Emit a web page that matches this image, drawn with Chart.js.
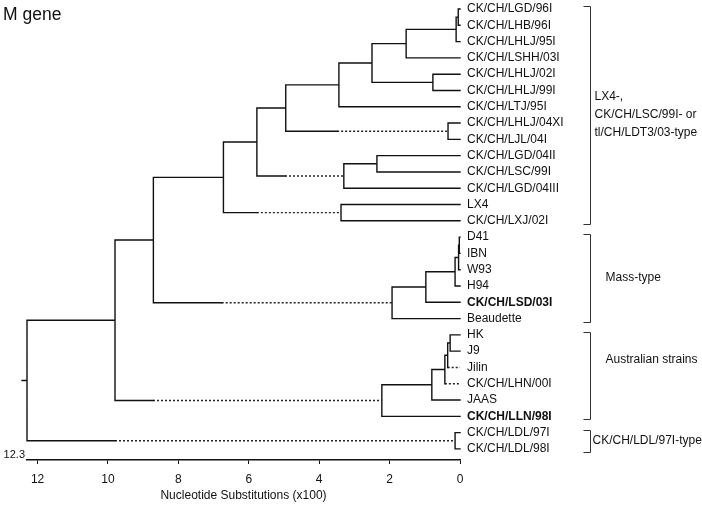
<!DOCTYPE html>
<html>
<head>
<meta charset="utf-8">
<script src="https://cdn.jsdelivr.net/npm/chart.js@4.4.1/dist/chart.umd.min.js"></script>
<style>
  html, body { margin: 0; padding: 0; background: #fff; }
  #wrap { width: 702px; height: 505px; position: relative; }
</style>
</head>
<body>
<div id="wrap"><canvas id="tree"></canvas></div>
<script>
const leaves = [
  'CK/CH/LGD/96I', 'CK/CH/LHB/96I', 'CK/CH/LHLJ/95I', 'CK/CH/LSHH/03I',
  'CK/CH/LHLJ/02I', 'CK/CH/LHLJ/99I', 'CK/CH/LTJ/95I', 'CK/CH/LHLJ/04XI',
  'CK/CH/LJL/04I', 'CK/CH/LGD/04II', 'CK/CH/LSC/99I', 'CK/CH/LGD/04III',
  'LX4', 'CK/CH/LXJ/02I', 'D41', 'IBN', 'W93', 'H94', 'CK/CH/LSD/03I',
  'Beaudette', 'HK', 'J9', 'Jilin', 'CK/CH/LHN/00I', 'JAAS', 'CK/CH/LLN/98I',
  'CK/CH/LDL/97I', 'CK/CH/LDL/98I'
];
const boldLeaves = ['CK/CH/LSD/03I', 'CK/CH/LLN/98I'];

// internal nodes: height in nucleotide substitutions (x100), children = leaf index or node id
const nodeIds = ['n1', 'n2', 'n3', 'n4', 'n5', 'n6', 'n7', 'n8', 'n9', 'n10', 'n11', 'n12', 'n13',
  'n14', 'n15', 'n16', 'n17', 'n18', 'n19', 'n20', 'n21', 'n22', 'n23', 'n24', 'n25', 'n26', 'root'];
const nodeHeights = [0.05, 0.11, 1.53, 0.77, 2.5, 3.44, 0.34, 4.95, 2.36, 3.3, 5.77, 3.38, 6.72,
  0.02, 0.04, 0.14, 0.97, 1.93, 8.71, 0.28, 0.35, 0.43, 0.8, 2.22, 9.8, 0.14, 12.3];
const nodeChildren = [
  [0, 1], ['n1', 2], ['n2', 3], [4, 5], ['n3', 'n4'], ['n5', 6], [7, 8], ['n6', 'n7'],
  [9, 10], ['n9', 11], ['n8', 'n10'], [12, 13], ['n11', 'n12'],
  [14, 15], ['n14', 16], ['n15', 17], ['n16', 18], ['n17', 19], ['n13', 'n18'],
  [20, 21], ['n20', 22], ['n21', 23], ['n22', 24], ['n23', 25], ['n19', 'n24'],
  [26, 27], ['n25', 'n26']
];
// branches drawn dotted after the solid part stops
const dottedChild = ['n7', 'n10', 'n12', 'n18', 'n24', 'n26', 22, 23];
const dottedFrom = [3.49, 4.97, 5.77, 6.77, 8.72, 9.8, 0.35, 0.43];

const xTicks = [0, 2, 4, 6, 8, 10, 12];

const groupLabels = [
  ['LX4-,', 'CK/CH/LSC/99I- or', 'tl/CH/LDT3/03-type'],
  ['Mass-type'],
  ['Australian strains'],
  ['CK/CH/LDL/97I-type']
];
const groupFirst = [0, 14, 20, 26];
const groupLast = [13, 19, 25, 27];
const groupTextAt = [6.5, 16.5, 21.5, 26.5];
const groupTextGap = [4, 15, 15, 2];

const FONT = '"Liberation Sans", Arial, Helvetica, sans-serif';

// build line segments of the tree
const solidPts = [];
const dottedPts = [];
function seg(arr, x1, y1, x2, y2) {
  arr.push({ x: x1, y: y1 }, { x: x2, y: y2 }, { x: NaN, y: NaN });
}
function place(id) {
  if (typeof id === 'number') return { y: id, h: 0 };
  const i = nodeIds.indexOf(id);
  const h = nodeHeights[i];
  const kids = nodeChildren[i].map(place);
  const y = (kids[0].y + kids[kids.length - 1].y) / 2;
  seg(solidPts, h, kids[0].y, h, kids[kids.length - 1].y);
  nodeChildren[i].forEach((c, k) => {
    const d = dottedChild.indexOf(c);
    if (d >= 0) {
      if (dottedFrom[d] < h) seg(solidPts, h, kids[k].y, dottedFrom[d], kids[k].y);
      seg(dottedPts, dottedFrom[d], kids[k].y, kids[k].h, kids[k].y);
    } else {
      seg(solidPts, h, kids[k].y, kids[k].h, kids[k].y);
    }
  });
  return { y, h };
}
const rootPos = place('root');
seg(solidPts, rootPos.h, rootPos.y, rootPos.h + 0.14, rootPos.y);

const extras = {
  id: 'extras',
  afterDraw(chart) {
    const c = chart.ctx;
    const ys = chart.scales.y;
    const xs = chart.scales.x;
    const area = chart.chartArea;
    c.save();
    c.fillStyle = '#111';
    c.textBaseline = 'middle';
    c.textAlign = 'left';
    c.font = '17.5px ' + FONT;
    c.fillText('M gene', 3, 15);

    // leaf names
    leaves.forEach((name, i) => {
      c.font = (boldLeaves.includes(name) ? 'bold ' : '') + '12px ' + FONT;
      c.fillText(name, area.right + 7, ys.getPixelForValue(i));
    });

    c.font = '11px ' + FONT;
    c.textAlign = 'right';
    c.fillText('12.3', 25, xs.top - 5);

    c.font = '12px ' + FONT;
    c.textAlign = 'center';
    c.fillText('Nucleotide Substitutions (x100)', (area.left + area.right) / 2, 496);

    // clade brackets
    c.strokeStyle = '#333';
    c.lineWidth = 1;
    c.textAlign = 'left';
    const bx = 590.5;
    groupLabels.forEach((lines, g) => {
      const y1 = Math.round(ys.getPixelForValue(groupFirst[g]) - 3) + 0.5;
      const y2 = Math.round(ys.getPixelForValue(groupLast[g]) + 3) + 0.5;
      c.beginPath();
      c.moveTo(bx - 7, y1);
      c.lineTo(bx, y1);
      c.lineTo(bx, y2);
      c.lineTo(bx - 7, y2);
      c.stroke();
      const mid = ys.getPixelForValue(groupTextAt[g]);
      const lh = 18;
      lines.forEach((t, k) => {
        c.fillText(t, bx + groupTextGap[g], mid + (k - (lines.length - 1) / 2) * lh);
      });
    });
    c.restore();
  }
};

new Chart(document.getElementById('tree'), {
  type: 'scatter',
  data: {
    datasets: [
      {
        data: solidPts, showLine: true, spanGaps: false, borderColor: '#111',
        borderWidth: 1.4, borderCapStyle: 'square', pointRadius: 0, clip: false
      },
      {
        data: dottedPts, showLine: true, spanGaps: false, borderColor: '#222',
        borderWidth: 1.4, borderDash: [2, 2], pointRadius: 0, clip: false
      }
    ]
  },
  options: {
    responsive: true,
    maintainAspectRatio: false,
    animation: false,
    layout: { padding: { left: 27, top: 0, right: 0, bottom: 10.6 } },
    plugins: { legend: { display: false }, tooltip: { enabled: false } },
    scales: {
      x: {
        type: 'linear', reverse: true, min: 0, max: 12.3,
        afterBuildTicks: (s) => { s.ticks = xTicks.map(v => ({ value: v })); },
        grid: { display: true, drawOnChartArea: false, drawTicks: true, tickLength: 4, tickColor: '#111', tickWidth: 1 },
        border: { display: true, color: '#111', width: 1.5 },
        ticks: { color: '#111', padding: 8, font: { family: FONT, size: 12 }, maxRotation: 0 }
      },
      y: {
        type: 'linear', position: 'right', reverse: true, min: -0.553, max: 27.68,
        afterFit: (s) => { s.width = 242; },
        grid: { display: false },
        border: { display: false },
        ticks: { display: false }
      }
    }
  },
  plugins: [extras]
});
</script>
</body>
</html>
